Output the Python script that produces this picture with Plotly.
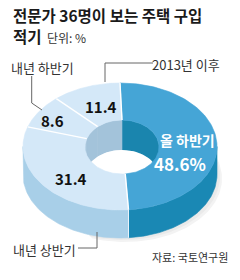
import numpy as np
import plotly.graph_objects as go

# ---------------- data ----------------
categories = ["올 하반기", "내년 상반기", "내년 하반기", "2013년 이후"]
values = [48.6, 31.4, 8.6, 11.4]

title_line1 = "전문가 36명이 보는 주택 구입"
title_line2 = "적기"
unit_text = "단위: %"
source_text = "자료: 국토연구원"

# ---------------- style ----------------
TOP = ["#45a5d6", "#d4e8f8", "#d4e8f8", "#d4e8f8"]
SIDE = ["#1a88b4", "#a8cfe8", "#a8cfe8", "#a8cfe8"]
INNER = ["#1a85ae", "#a3c3da", "#a3c3da", "#a3c3da"]
KO = "Noto Sans CJK KR"
NUM = "Liberation Sans Narrow, Noto Sans CJK KR"

CX, CY, RX, RY = 120, 146.5, 97, 63.5
ICX, ICY, IRX, IRY = 122, 147, 37, 27
D = 28


def outer(a, dy=0):
    t = np.radians(90 - np.asarray(a, dtype=float))
    return CX + RX * np.cos(t), CY - RY * np.sin(t) + dy


def inner(a, dy=0):
    t = np.radians(90 - np.asarray(a, dtype=float))
    return ICX + IRX * np.cos(t), ICY - IRY * np.sin(t) + dy


def poly(fig, xs, ys, color, width=0.6):
    fig.add_trace(go.Scatter(x=np.append(xs, xs[0]), y=np.append(ys, ys[0]),
                             mode="lines", fill="toself", fillcolor=color,
                             line=dict(color=color, width=width),
                             hoverinfo="skip", showlegend=False))


total = sum(values)
bounds = np.concatenate([[0], np.cumsum(values) / total * 360])

fig = go.Figure()

# soft shadow
for k, col in enumerate(["#f3f3f3", "#eaeaea"]):
    a = np.linspace(60, 200, 80)
    ox, oy = outer(a, D + 4 - k * 2)
    ox = ox + 5 - k * 2
    ix, iy = outer(a[::-1], D - 6)
    poly(fig, np.concatenate([ox, ix]), np.concatenate([oy, iy]), col, 0)

# outer side walls (front half)
for i in range(len(values)):
    a0, a1 = max(bounds[i], 90), min(bounds[i + 1], 270)
    if a1 <= a0:
        continue
    a = np.linspace(a0, a1, 80)
    x1, y1 = outer(a)
    x2, y2 = outer(a[::-1], D)
    poly(fig, np.concatenate([x1, x2]), np.concatenate([y1, y2]), SIDE[i])

# inner walls (far half)
for i in range(len(values)):
    for lo, hi in [(0, 90), (270, 360)]:
        a0, a1 = max(bounds[i], lo), min(bounds[i + 1], hi)
        if a1 <= a0:
            continue
        a = np.linspace(a0, a1, 60)
        x1, y1 = inner(a)
        x2, y2 = inner(a[::-1], D + 2)
        poly(fig, np.concatenate([x1, x2]), np.concatenate([y1, y2]), INNER[i])

# see-through hole bottom
a = np.linspace(0, 360, 120)
hx, hy = inner(a, D + 2)
poly(fig, hx, hy, "#ffffff", 0)

# top faces
for i in range(len(values)):
    a = np.linspace(bounds[i], bounds[i + 1], 100)
    x1, y1 = outer(a)
    x2, y2 = inner(a[::-1])
    poly(fig, np.concatenate([x1, x2]), np.concatenate([y1, y2]), TOP[i])

# separators
for b in bounds[:-1]:
    xi, yi = inner(b)
    xo, yo = outer(b)
    fig.add_trace(go.Scatter(x=[xi, xo], y=[yi, yo], mode="lines",
                             line=dict(color="#ffffff", width=1.4),
                             hoverinfo="skip", showlegend=False))
    if 90 < b < 270:
        fig.add_trace(go.Scatter(x=[xo, xo], y=[yo, yo + D], mode="lines",
                                 line=dict(color="#e8f3fb", width=1),
                                 hoverinfo="skip", showlegend=False))

# ---------------- text ----------------
ann = []


def text(x, y, s, size, color="#222", bold=False, family=KO, anchor="center"):
    ann.append(dict(x=x, y=y, xref="x", yref="y", text=s, showarrow=False,
                    xanchor=anchor, yanchor="middle",
                    font=dict(family=family, size=size, color=color,
                              weight="bold" if bold else "normal")))


text(11, 15, title_line1, 15.5, "#1a1a1a", True, anchor="left")
text(11, 36, title_line2, 15.5, "#1a1a1a", True, anchor="left")
text(45, 37, unit_text, 12, "#333", anchor="left")

# value labels
text(187, 140, categories[0], 14, "#ffffff", True)
text(180, 163, f"{values[0]}%", 17, "#ffffff", True, NUM)
text(71, 178, f"{values[1]}", 15, "#111", True, NUM)
text(52, 120, f"{values[2]}", 15, "#111", True, NUM)
text(101, 106, f"{values[3]}", 15, "#111", True, NUM)

# category labels outside
text(42, 67, categories[2], 13, "#333")
text(186, 64, categories[3], 13, "#333")
text(44, 249, categories[1], 13, "#333")
text(190, 257, source_text, 11, "#333")

shapes = []
for path in ["M31.7,76 L31.7,103 L42,110",
             "M153,63 L105,63 L105,82",
             "M78,248 L97,248 L97,232"]:
    shapes.append(dict(type="path", path=path, xref="x", yref="y",
                       line=dict(color="#666", width=1)))

fig.update_layout(
    width=240, height=280, margin=dict(l=0, r=0, t=0, b=0),
    paper_bgcolor="#ffffff", plot_bgcolor="#ffffff",
    xaxis=dict(range=[0, 240], visible=False, fixedrange=True),
    yaxis=dict(range=[280, 0], visible=False, fixedrange=True),
    showlegend=False, annotations=ann, shapes=shapes,
)

fig.write_html("out.html")
